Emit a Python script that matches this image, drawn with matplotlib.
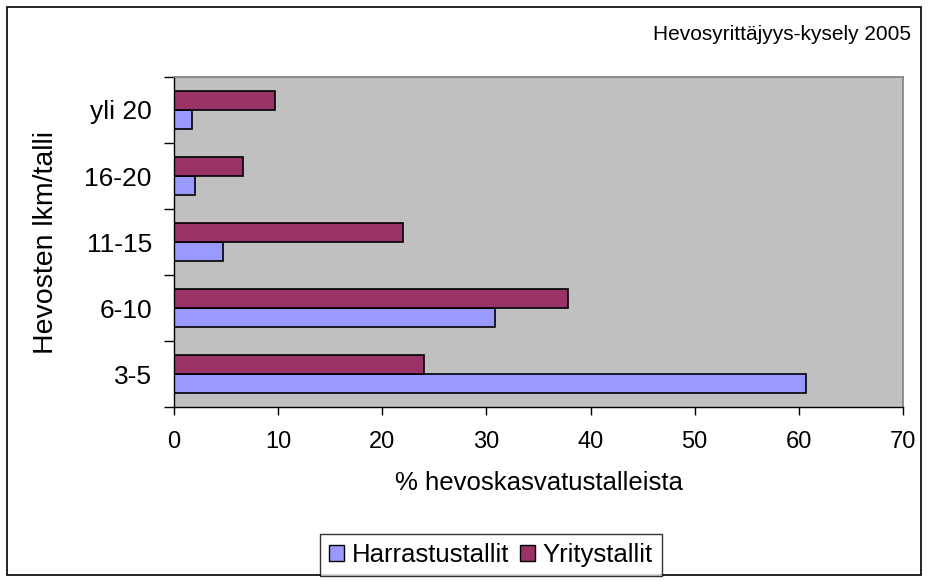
import numpy as np
import matplotlib
matplotlib.use("Agg")
import matplotlib.pyplot as plt
from matplotlib.patches import Rectangle, Patch

plt.rcParams['font.family'] = ['Liberation Sans', 'DejaVu Sans']

# data
categories = ["3-5", "6-10", "11-15", "16-20", "yli 20"]
harrastus = [60.7, 30.8, 4.7, 2.0, 1.7]
yritys = [24.0, 37.8, 22.0, 6.6, 9.7]
series_names = ["Harrastustallit", "Yritystallit"]
x_ticks = [0, 10, 20, 30, 40, 50, 60, 70]

col_h = "#9999FF"
col_y = "#993366"

fig = plt.figure(figsize=(9.29, 5.81), dpi=100)
W, H = 929, 581
ax = fig.add_axes([174 / W, 1 - 407 / H, (903 - 174) / W, (407 - 77) / H])
ax.set_facecolor("#C0C0C0")

y = np.arange(len(categories))
bh = 0.285
ax.barh(y - bh / 2, harrastus, height=bh, color=col_h, edgecolor="black", linewidth=1.2)
ax.barh(y + bh / 2, yritys, height=bh, color=col_y, edgecolor="black", linewidth=1.2)

ax.set_xlim(0, 70)
ax.set_ylim(-0.5, len(categories) - 0.5)
ax.set_xticks(x_ticks)
ax.set_yticks(y)
ax.set_yticklabels(categories)
ax.set_yticks(np.arange(len(categories) + 1) - 0.5, minor=True)
ax.tick_params(axis='y', which='major', length=0, pad=16, labelsize=19)
ax.tick_params(axis='y', which='minor', length=7, width=1, color="black")
ax.tick_params(axis='x', length=6, width=1, direction='out', pad=11, labelsize=17)

for s in ["top", "right"]:
    ax.spines[s].set_color("#808080")
    ax.spines[s].set_linewidth(1.2)
for s in ["left", "bottom"]:
    ax.spines[s].set_color("black")
    ax.spines[s].set_linewidth(1)

ax.set_xlabel("% hevoskasvatustalleista", fontsize=18.5, labelpad=13)
ax.set_ylabel("Hevosten lkm/talli", fontsize=20.5, labelpad=18)

fig.text(911 / W, 1 - 40 / H, "Hevosyrittäjyys-kysely 2005", ha="right", va="baseline", fontsize=15)

# outer border
fig.patches.append(Rectangle((7 / W, 1 - 575 / H), (921 - 7) / W, (575 - 7) / H,
                             transform=fig.transFigure, fill=False,
                             edgecolor="black", linewidth=1.2))

handles = [Patch(facecolor=col_h, edgecolor="black"), Patch(facecolor=col_y, edgecolor="black")]
leg = fig.legend(handles, series_names, loc="center", bbox_to_anchor=(491 / W, 1 - 555 / H),
                 ncol=2, fontsize=18.5, frameon=True, fancybox=False,
                 handlelength=0.6, handleheight=0.6, handletextpad=0.3, columnspacing=0.4,
                 borderpad=0.35, borderaxespad=0)
leg.get_frame().set_edgecolor("black")
leg.get_frame().set_linewidth(1)

fig.savefig("out.png", dpi=100)
